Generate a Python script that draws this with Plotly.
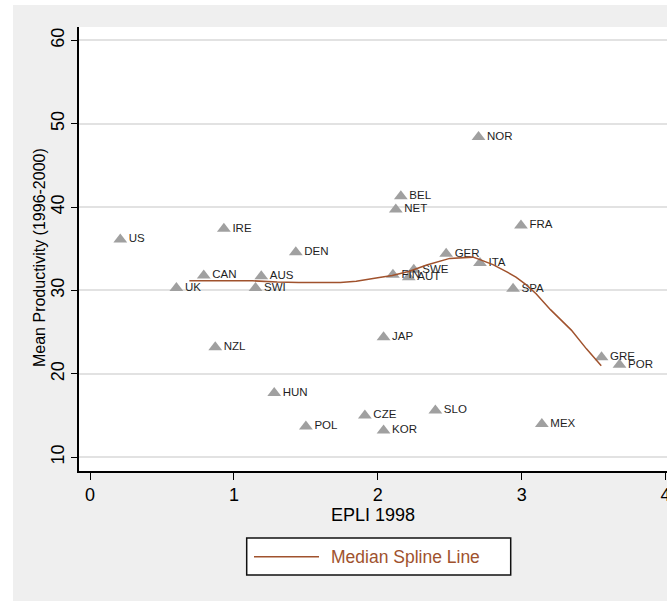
import plotly.graph_objects as go

# ---- data ----
countries = ["US", "IRE", "DEN", "CAN", "AUS", "UK", "SWI", "NZL", "HUN", "POL",
             "CZE", "JAP", "KOR", "SLO", "MEX", "GRE", "POR", "NOR", "BEL", "NET",
             "FRA", "GER", "ITA", "FIN", "SWE", "AUT", "SPA"]
epli_1998 = [0.21, 0.93, 1.43, 0.79, 1.19, 0.60, 1.15, 0.87, 1.28, 1.50,
             1.91, 2.04, 2.04, 2.40, 3.14, 3.555, 3.68, 2.70, 2.16, 2.125,
             2.995, 2.475, 2.71, 2.105, 2.25, 2.215, 2.94]
mean_productivity = [36.1, 37.4, 34.6, 31.8, 31.7, 30.3, 30.3, 23.2, 17.7, 13.7,
                     15.0, 24.4, 13.2, 15.6, 14.0, 22.0, 21.1, 48.4, 41.3, 39.7,
                     37.8, 34.4, 33.3, 31.9, 32.5, 31.6, 30.2]

spline_x = [0.69, 1.13, 1.30, 1.45, 1.74, 1.85, 2.01, 2.10, 2.22, 2.34, 2.50, 2.60,
            2.66, 2.71, 2.80, 2.90, 2.96, 3.03, 3.10, 3.20, 3.29, 3.345, 3.45, 3.553]
spline_y = [31.16, 31.16, 31.02, 30.97, 30.97, 31.10, 31.57, 31.80, 32.30, 33.05, 33.85, 34.0,
            34.0, 33.70, 33.10, 32.20, 31.60, 30.70, 29.60, 27.70, 26.20, 25.25, 23.0, 20.96]

x_ticks = [0, 1, 2, 3, 4]
y_ticks = [10, 20, 30, 40, 50, 60]

# ---- styling ----
W, H = 667, 601
L, R, T, B = 79, 0, 27, 130
PW, PH = W - L - R, H - T - B
FONT = "Liberation Sans, Arial, sans-serif"
SIENNA = "#a0522d"
BG = "#efefef"


def xp(px):
    return (px - L) / PW


def yp(py):
    return (H - B - py) / PH


fig = go.Figure()

fig.add_trace(go.Scatter(
    x=epli_1998, y=mean_productivity, mode="markers+text",
    text=countries, textposition="middle right",
    textfont=dict(family=FONT, size=11.5, color="#1e1e1e"),
    marker=dict(symbol="triangle-up", size=12, color="#a0a0a0", line=dict(width=0)),
    showlegend=False, cliponaxis=False,
))

fig.add_trace(go.Scatter(
    x=spline_x, y=spline_y, mode="lines",
    line=dict(color=SIENNA, width=1.5),
    name="Median Spline Line", showlegend=False,
))

fig.update_layout(
    template="none",
    width=W, height=H,
    margin=dict(l=L, r=R, t=T, b=B, pad=0),
    paper_bgcolor=BG, plot_bgcolor="white",
    font=dict(family=FONT, color="black"),
    showlegend=False,
    xaxis=dict(
        range=[-0.077, 4.01], tickvals=x_ticks, ticktext=[str(v) for v in x_ticks],
        showgrid=False, zeroline=False, showline=True, linecolor="black", linewidth=1.5,
        ticks="outside", ticklen=7, tickcolor="black", tickwidth=1,
        ticklabeloverflow="allow",
        tickfont=dict(family=FONT, size=18, color="black"),
        title=dict(text="EPLI 1998", font=dict(family=FONT, size=18, color="black"), standoff=2),
        automargin=False,
    ),
    yaxis=dict(
        range=[8.35, 61.6], tickvals=y_ticks, ticktext=[str(v) for v in y_ticks],
        showgrid=True, gridcolor="#e2e2e2", gridwidth=1.5,
        zeroline=False, showline=True, linecolor="black", linewidth=1.5,
        ticks="outside", ticklen=6, tickcolor="black", tickwidth=1, tickangle=-90,
        tickfont=dict(family=FONT, size=18, color="black"),
        automargin=False,
    ),
)

shapes = [
    # white outer border strips
    dict(type="rect", xref="paper", yref="paper", x0=xp(0), x1=xp(13), y0=yp(H), y1=yp(0),
         fillcolor="white", line=dict(width=0), layer="below"),
    dict(type="rect", xref="paper", yref="paper", x0=xp(0), x1=xp(W), y0=yp(5), y1=yp(0),
         fillcolor="white", line=dict(width=0), layer="below"),
    # legend box
    dict(type="rect", xref="paper", yref="paper", x0=xp(246.7), x1=xp(510.7), y0=yp(575), y1=yp(538),
         fillcolor="white", line=dict(color="#111111", width=1.5), layer="above"),
    dict(type="line", xref="paper", yref="paper", x0=xp(254), x1=xp(319), y0=yp(556.7), y1=yp(556.7),
         line=dict(color=SIENNA, width=1.5), layer="above"),
]
fig.update_layout(shapes=shapes)

# y-axis title
fig.add_annotation(
    x=xp(39), y=yp(258), xref="paper", yref="paper", xanchor="center", yanchor="middle",
    text="Mean Productivity (1996-2000)", textangle=-90, showarrow=False,
    font=dict(family=FONT, size=16, color="black"),
)
# legend label
fig.add_annotation(
    x=xp(329), y=yp(556.5), xref="paper", yref="paper", xanchor="left", yanchor="middle",
    text="Median Spline Line", showarrow=False,
    font=dict(family=FONT, size=17.5, color=SIENNA),
)

fig.write_html("out.html")
